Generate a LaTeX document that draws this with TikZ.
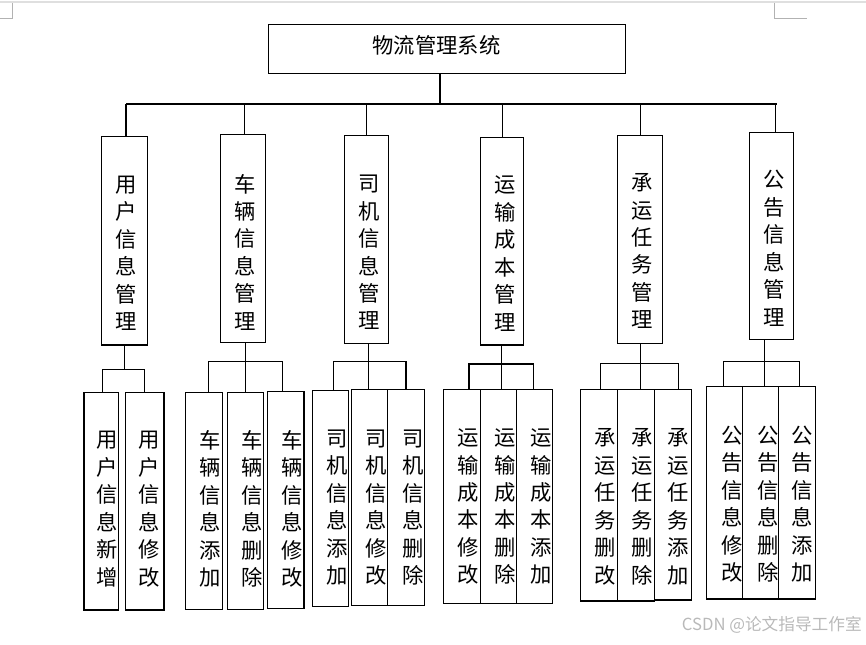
\documentclass[tikz,border=0pt]{standalone}
\usepackage{fontspec}
\setmainfont{Noto Sans CJK SC}
\usepackage{tikz}
\usetikzlibrary{positioning,fit,calc}

\begin{document}
\begin{tikzpicture}[x=0.75pt,y=-0.75pt,
  box/.style={draw,line width=0.8pt,inner sep=0pt},
  vtxt/.style={align=center,inner sep=0pt,font=\fontsize{16}{20.6}\selectfont},
  link/.style={line width=0.8pt}]
\useasboundingbox (0,0) rectangle (866,644);

% page marks
\draw[gray!25,line width=1.5pt] (0,2) -- (866,2);
\draw[gray!60,line width=0.6pt] (0,18) -- (12,18) -- (12,3);
\draw[gray!60,line width=0.6pt] (774,3) -- (774,18) -- (807,18);

% root
\node[box,fit={(268.5,24.3) (625.4,73.3)}] (root) {};
\node[vtxt] (rootT) at (436.5,45) {物流管理系统};

% modules
\node[box,fit={(101.7,136.7) (147.3,345)}] (user) {};
\node[box,fit={(220.3,134.7) (265.3,342.3)}] (car) {};
\node[box,fit={(344.3,135.7) (388.3,343.3)}] (driver) {};
\node[box,fit={(480.7,137.7) (523.3,345)}] (cost) {};
\node[box,fit={(617.3,135.7) (662.3,343.3)}] (task) {};
\node[box,fit={(749.3,132.7) (793.3,339.3)}] (notice) {};
\node[vtxt] (userT) at (126.3,253.3) {用\\户\\信\\息\\管\\理};
\node[vtxt] (carT) at (245,252.2) {车\\辆\\信\\息\\管\\理};
\node[vtxt] (driverT) at (369,252.5) {司\\机\\信\\息\\管\\理};
\node[vtxt] (costT) at (505,253.7) {运\\输\\成\\本\\管\\理};
\node[vtxt] (taskT) at (642,251.2) {承\\运\\任\\务\\管\\理};
\node[vtxt] (noticeT) at (774,248.3) {公\\告\\信\\息\\管\\理};

% bus
\coordinate (top) at (440,104);
\coordinate (busL) at (126,104);
\coordinate (busR) at (777,104);
\coordinate (b2) at (244.3,104);
\coordinate (b3) at (366.3,104);
\coordinate (b4) at (502.3,104);
\coordinate (b5) at (640.3,104);
\coordinate (b6) at (775.3,104);
\draw[link] (root.south -| top) -- (top);
\draw[link] (busL) -- (busR);
\draw[link] (busL) -- (busL |- user.north);
\draw[link] (b2) -- (b2 |- car.north);
\draw[link] (b3) -- (b3 |- driver.north);
\draw[link] (b4) -- (b4 |- cost.north);
\draw[link] (b5) -- (b5 |- task.north);
\draw[link] (b6) -- (b6 |- notice.north);

% leaves
\node[box,fit={(84,392.3) (118.3,610)}] (u1) {};
\node[box,fit={(125.7,392.3) (164,610)}] (u2) {};
\node[box,fit={(185.7,392.3) (222.7,609.3)}] (c1) {};
\node[box,fit={(227.3,392.3) (263.3,609.3)}] (c2) {};
\node[box,fit={(267.7,391.7) (304,608.3)}] (c3) {};
\node[box,fit={(312.7,390.7) (348.7,606.7)}] (d1) {};
\node[box,fit={(351.7,389.7) (387.7,605.7)}] (d2) {};
\node[box,fit={(387.7,389.7) (424.3,605.7)}] (d3) {};
\node[box,fit={(443.3,389.3) (480.7,603.3)}] (o1) {};
\node[box,fit={(480.7,389.3) (516.7,603.3)}] (o2) {};
\node[box,fit={(516.7,389.3) (552.7,603.3)}] (o3) {};
\node[box,fit={(580.7,389.3) (617.7,601)}] (t1) {};
\node[box,fit={(617.7,389.3) (654.3,601)}] (t2) {};
\node[box,fit={(654.7,389.3) (691.3,600)}] (t3) {};
\node[box,fit={(706.7,386.7) (742.3,599)}] (n1) {};
\node[box,fit={(742.3,386.7) (778.7,599)}] (n2) {};
\node[box,fit={(778.7,386.7) (815.7,599)}] (n3) {};

\node[vtxt] (u1T) at (107.3,509.2) {用\\户\\信\\息\\新\\增};
\node[vtxt] (u2T) at (149,509.2) {用\\户\\信\\息\\修\\改};
\node[vtxt] (c1T) at (210,509) {车\\辆\\信\\息\\添\\加};
\node[vtxt] (c2T) at (252,509) {车\\辆\\信\\息\\删\\除};
\node[vtxt] (c3T) at (291.7,509) {车\\辆\\信\\息\\修\\改};
\node[vtxt] (d1T) at (337,507.5) {司\\机\\信\\息\\添\\加};
\node[vtxt] (d2T) at (376,507.5) {司\\机\\信\\息\\修\\改};
\node[vtxt] (d3T) at (412.7,507.5) {司\\机\\信\\息\\删\\除};
\node[vtxt] (o1T) at (468.3,506.7) {运\\输\\成\\本\\修\\改};
\node[vtxt] (o2T) at (505,506.7) {运\\输\\成\\本\\删\\除};
\node[vtxt] (o3T) at (540.7,506.7) {运\\输\\成\\本\\添\\加};
\node[vtxt] (t1T) at (605,506.7) {承\\运\\任\\务\\删\\改};
\node[vtxt] (t2T) at (641.7,506.7) {承\\运\\任\\务\\删\\除};
\node[vtxt] (t3T) at (678.3,506.7) {承\\运\\任\\务\\添\\加};
\node[vtxt] (n1T) at (731.7,504.2) {公\\告\\信\\息\\修\\改};
\node[vtxt] (n2T) at (768.3,504.2) {公\\告\\信\\息\\删\\除};
\node[vtxt] (n3T) at (802.3,504.2) {公\\告\\信\\息\\添\\加};

% user links
\coordinate (uL) at (102.3,369.3);
\coordinate (uM) at (124.7,369.3);
\coordinate (uR) at (144.3,369.3);
\draw[link] (user.south -| uM) -- (uM);
\draw[link] (uL |- u1.north) -- (uL) -- (uR) -- (uR |- u2.north);

% car links
\coordinate (cL) at (208.3,361.7);
\coordinate (cM) at (245.3,361.7);
\coordinate (cR) at (282.3,361.7);
\draw[link] (car.south -| cM) -- (cM |- c2.north);
\draw[link] (cL |- c1.north) -- (cL) -- (cR) -- (cR |- c3.north);

% driver links
\coordinate (dL) at (333.3,361.7);
\coordinate (dM) at (368.3,361.7);
\coordinate (dR) at (406,361.7);
\draw[link] (driver.south -| dM) -- (dM |- d2.north);
\draw[link] (dL |- d1.north) -- (dL) -- (dR) -- (dR |- d3.north);

% cost links
\coordinate (oL) at (469,364);
\coordinate (oM) at (501.3,364);
\coordinate (oR) at (533.3,364);
\draw[link] (cost.south -| oM) -- (oM |- o2.north);
\draw[link] (oL |- o1.north) -- (oL) -- (oR) -- (oR |- o3.north);

% task links
\coordinate (tL) at (600.7,363.3);
\coordinate (tM) at (640.7,363.3);
\coordinate (tR) at (678.7,363.3);
\draw[link] (task.south -| tM) -- (tM |- t2.north);
\draw[link] (tL |- t1.north) -- (tL) -- (tR) -- (tR |- t3.north);

% notice links
\coordinate (nL) at (723.3,361.7);
\coordinate (nM) at (764.3,361.7);
\coordinate (nR) at (799.3,361.7);
\draw[link] (notice.south -| nM) -- (nM |- n2.north);
\draw[link] (nL |- n1.north) -- (nL) -- (nR) -- (nR |- n3.north);

% watermark
\node[text=gray!55,inner sep=0pt,anchor=east,font=\fontsize{12.5}{13}\selectfont] (mark) at (862,625) {CSDN @论文指导工作室};
\end{tikzpicture}
\end{document}
